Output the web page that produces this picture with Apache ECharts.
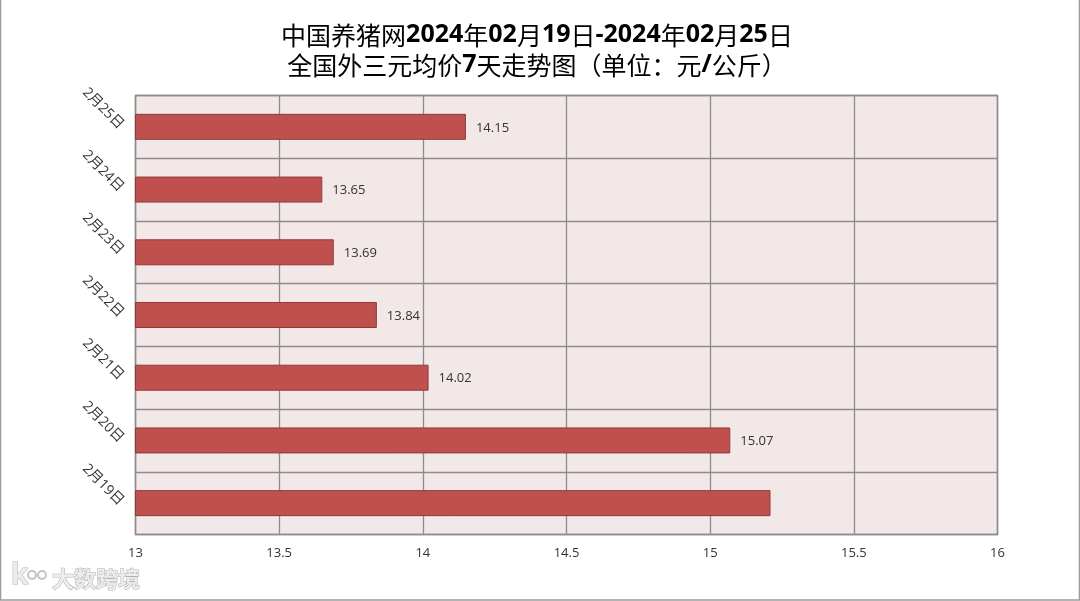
<!DOCTYPE html>
<html><head><meta charset="utf-8">
<style>html,body{margin:0;padding:0;background:#fff}#c{width:1080px;height:601px}</style>
<script src="https://cdn.jsdelivr.net/npm/echarts@6/dist/echarts.min.js"></script></head>
<body><div id="c"></div>
<script>
const categories=['2月19日','2月20日','2月21日','2月22日','2月23日','2月24日','2月25日'];
const values=[15.21,15.07,14.02,13.84,13.69,13.65,14.15];
const unlabelled=['2月19日'];
const cjk='"Noto Sans CJK SC"';
const latin='"Open Sans","Noto Sans CJK SC"';
const chart=echarts.init(document.getElementById('c'),null,{renderer:'canvas'});
const rich={c:{fontFamily:cjk,fontSize:25,color:'#000',fontWeight:'normal',lineHeight:30},
 b:{fontFamily:latin,fontSize:25,color:'#000',fontWeight:'bold',lineHeight:30}};
const wm={fill:'#ececec',stroke:'#b0b0b0',lineWidth:1,shadowBlur:3,shadowColor:'rgba(120,120,120,0.6)'};
chart.setOption({
 animation:false,
 backgroundColor:'#fff',
 title:{left:532,top:15,textAlign:'center',
  text:'{c|中国养猪网}{b|2024}{c|年}{b|02}{c|月}{b|19}{c|日}{b|-2024}{c|年}{b|02}{c|月}{b|25}{c|日}\n{c|全国外三元均价}{b|7}{c|天走势图（单位：元}{b|/}{c|公斤）}',
  textStyle:{rich:rich,lineHeight:30}},
 grid:{left:135.5,right:82.5,top:95.5,bottom:66.5,show:true,backgroundColor:'#f2e8e8',borderColor:'#8f8b8b',borderWidth:1.5},
 xAxis:{type:'value',min:13,max:16,interval:0.5,
  axisLine:{show:false},axisTick:{show:false},
  splitLine:{show:true,lineStyle:{color:'#8f8b8b',width:1.3}},
  axisLabel:{margin:12,fontSize:13,fontFamily:latin,color:'#333',
   formatter:v=>String(v)}},
 yAxis:{type:'category',data:categories,
  axisLine:{show:false},axisTick:{show:false},
  splitLine:{show:true,lineStyle:{color:'#8f8b8b',width:1.3}},
  axisLabel:{rotate:-45,margin:14,padding:[4,0,0,0],fontSize:14,fontFamily:latin,color:'#333'}},
 series:[{type:'bar',barWidth:26,
  data:categories.map((c,i)=>({value:values[i],label:{show:!unlabelled.includes(c)}})),
  itemStyle:{color:'#c0504d',borderColor:'#8f3a38',borderWidth:1},
  label:{position:'right',distance:10,fontSize:13,fontFamily:latin,color:'#333',offset:[0,1]}}],
 graphic:[
  {type:'rect',silent:true,shape:{x:0.5,y:-2,width:1079,height:602},style:{fill:'none',stroke:'#9a9a9a',lineWidth:1.5}},
  {type:'text',x:52,y:568,silent:true,style:{text:'大数跨境',fontFamily:cjk,fontSize:22,fontWeight:'bold',...wm}},
  {type:'text',x:11,y:562,silent:true,style:{text:'k',fontFamily:latin,fontSize:28,fontWeight:'bold',...wm}},
  {type:'circle',silent:true,shape:{cx:32,cy:575,r:4},style:{fill:'none',stroke:'#c4c4c4',lineWidth:2}},
  {type:'circle',silent:true,shape:{cx:42,cy:575,r:4},style:{fill:'none',stroke:'#c4c4c4',lineWidth:2}}
 ]
});
</script></body></html>
